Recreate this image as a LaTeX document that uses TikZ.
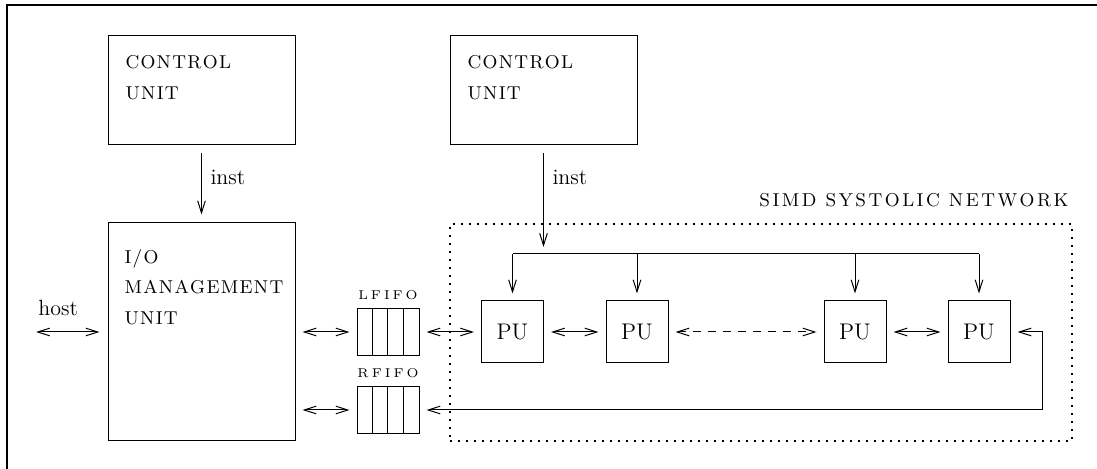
\documentclass[tikz,border=0pt]{standalone}
\usetikzlibrary{arrows.meta}
\makeatletter
\def\lsk{1pt}
\def\lspc#1{\lspc@a#1\@nil}
\def\lspc@a#1{#1\lspc@b}
\def\lspc@b#1{\ifx#1\@nil\else\kern\lsk\relax#1\expandafter\lspc@b\fi}
\makeatother
\begin{document}
\begin{tikzpicture}[x=0.5pt,y=-0.5pt,
  line width=0.5pt,
  >={Straight Barb[length=6pt,width=3.8pt]},
  box/.style={draw, rectangle, inner sep=0pt},
  cubox/.style={box, minimum width=93.5pt, minimum height=54.5pt},
  txt/.style={inner sep=0pt, anchor=north west, align=left, font={\fontsize{9.3}{15.2}\selectfont\def\lsk{0.65pt}}},
  lab/.style={inner sep=0pt, anchor=base west, font=\fontsize{11}{13}\selectfont},
  pu/.style={box, minimum width=31pt, minimum height=31pt, font=\fontsize{11.3}{13}\selectfont},
  fifo/.style={box, minimum width=31pt, minimum height=23.5pt},
  fifolab/.style={inner sep=0pt, anchor=base, font={\fontsize{6.4}{7}\selectfont\def\lsk{1.5pt}}},
  link/.style={<->, shorten <=3.5pt, shorten >=3.5pt},
  netbox/.style={draw, dash pattern=on 0.8pt off 3.2pt, line width=0.8pt, inner sep=0pt, minimum width=311pt, minimum height=108.5pt},
  dashlink/.style={link, dash pattern=on 4pt off 3.5pt}]
\useasboundingbox (0,0) rectangle (1097,469);
% frame
\draw[line width=0.7pt] (1097,5) -- (7,5) -- (7,469);
% network box
\node[netbox] (net) at (761,332.5) {};
\node[anchor=base east, inner sep=0pt, font={\fontsize{9.3}{11}\selectfont\def\lsk{1.25pt}}] (simd) at (1069,207)
  {\lspc{SIMD}\hspace{4.5pt}\lspc{SYSTOLIC}\hspace{4.5pt}\lspc{NETWORK}};
% control units
\node[cubox] (cu1) at (201.5,90.5) {};
\node[txt] (cu1t) at (125,55) {\lspc{CONTROL}\\\lspc{UNIT}};
\node[cubox] (cu2) at (543.5,90.5) {};
\node[txt] (cu2t) at (467,55) {\lspc{CONTROL}\\\lspc{UNIT}};
% I/O unit
\node[box, minimum width=93.5pt, minimum height=109pt] (io) at (201.5,332) {};
\node[txt] (iot) at (124,249) {\lspc{I/O}\\\lspc{MANAGEMENT}\\\lspc{UNIT}};
% fifos
\node[fifo] (lfifo) at (388,332) {};
\node[fifo] (rfifo) at (388,410) {};
\foreach \f in {lfifo,rfifo}
  \foreach \k in {1,2,3}
    \draw ([xshift=\k*7.75pt]\f.south west) -- ([xshift=\k*7.75pt]\f.north west);
\node[fifolab] (lfl) at ([yshift=4pt]lfifo.north) {\lspc{LFIFO}};
\node[fifolab] (rfl) at ([yshift=4pt]rfifo.north) {\lspc{RFIFO}};
% PUs
\node[pu] (pu1) at (512.5,332) {PU};
\node[pu] (pu2) at (637,332) {PU};
\node[pu] (pu3) at (855,332) {PU};
\node[pu] (pu4) at (979,332) {PU};
% labels
\node[lab] (inst1) at (210,185) {inst};
\node[lab] (inst2) at (552,185) {inst};
\node[lab] (host) at (38,316) {host};
% connectors
\draw[->, shorten <=4pt, shorten >=4pt] (cu1.south) -- (io.north);
\coordinate (bus) at (543.5,254);
\draw[->, shorten <=4pt, shorten >=3.5pt] (cu2.south) -- (bus);
\draw (pu1.north |- bus) -- (pu4.north |- bus);
\foreach \p in {pu1,pu2,pu3,pu4}
  \draw[->, shorten >=3.5pt] (\p.north |- bus) -- (\p.north);
\coordinate (hostend) at (36,332);
\draw[<->, shorten >=4pt] (hostend) -- (io.west |- hostend);
\draw[link] (io.east |- lfifo.west) -- (lfifo.west);
\draw[link] (io.east |- rfifo.west) -- (rfifo.west);
\draw[link] (lfifo.east) -- (pu1.west);
\draw[link] (pu1.east) -- (pu2.west);
\draw[dashlink] (pu2.east) -- (pu3.west);
\draw[link] (pu3.east) -- (pu4.west);
\coordinate (fb) at (1042,410);
\draw[link] (pu4.east) -| (fb) -- (rfifo.east);
\end{tikzpicture}
\end{document}
